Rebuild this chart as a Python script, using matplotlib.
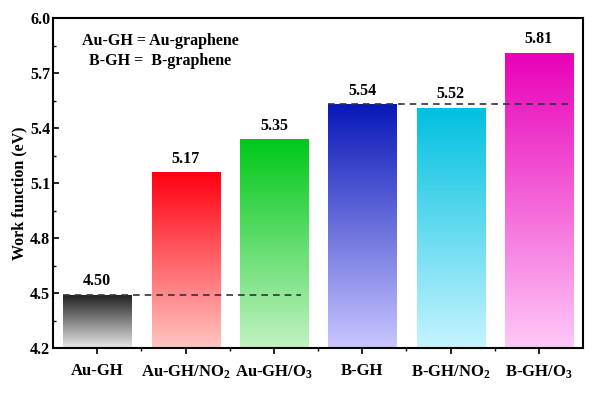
import numpy as np
import matplotlib
matplotlib.use('Agg')
import matplotlib.pyplot as plt
from matplotlib.colors import LinearSegmentedColormap

plt.rcParams['font.family'] = 'Liberation Serif'
plt.rcParams['font.weight'] = 'bold'
plt.rcParams['mathtext.fontset'] = 'custom'
plt.rcParams['mathtext.rm'] = 'Liberation Serif:bold'
plt.rcParams['mathtext.it'] = 'Liberation Serif:bold'
plt.rcParams['mathtext.bf'] = 'Liberation Serif:bold'
plt.rcParams['mathtext.default'] = 'rm'

# data
categories = ['Au-GH', 'Au-GH/NO$_2$', 'Au-GH/O$_3$', 'B-GH', 'B-GH/NO$_2$', 'B-GH/O$_3$']
values = [4.49, 5.16, 5.34, 5.53, 5.51, 5.81]
labels = ['4.50', '5.17', '5.35', '5.54', '5.52', '5.81']
top_colors = ['#1e1e1e', '#ff0010', '#00c818', '#0818b8', '#00c0e0', '#e800b8']
bottom_colors = ['#e8e8e8', '#ffc6c2', '#c2f2c2', '#cac6ff', '#c6f4ff', '#ffc8f8']

ymin, ymax = 4.2, 6.0
x = np.arange(1, len(categories) + 1)

fig = plt.figure(figsize=(6.03, 3.95), dpi=100)
ax = fig.add_axes([0.088, 0.119, 0.879, 0.835])

bars = ax.bar(x, np.array(values) - ymin, bottom=ymin, width=0.77,
              color='none', edgecolor='none', zorder=2)

# vertical gradient in each bar, dark at the top
grad = np.linspace(0, 1, 256).reshape(-1, 1)
for b, c0, c1 in zip(bars, top_colors, bottom_colors):
    cmap = LinearSegmentedColormap.from_list('g', [c1, c0])
    x0, y0 = b.get_x(), b.get_y()
    im = ax.imshow(grad, cmap=cmap, aspect='auto', origin='lower',
                   extent=[x0, x0 + b.get_width(), y0, y0 + b.get_height()],
                   zorder=1)
    im.set_clip_path(b)

for xi, v, lab in zip(x, values, labels):
    ax.annotate(lab, (xi, v), xytext=(0, 4), textcoords='offset points',
                ha='center', va='bottom', fontsize=11.5, fontweight='bold')

# reference dashed lines
ax.hlines(values[0], 0.61, 3.31, colors='#333333', linestyles=(0, (4, 3)), lw=1.2, zorder=3)
ax.hlines(values[3], 3.61, 6.33, colors='#333333', linestyles=(0, (4, 3)), lw=1.2, zorder=3)

ax.text(1.71, 5.82, 'Au-GH = Au-graphene\nB-GH =  B-graphene', ha='center', va='center',
        fontsize=11.5, fontweight='bold', linespacing=1.3)

ax.set_xlim(0.5, 6.5)
ax.set_ylim(ymin, ymax)
ax.set_yticks(np.arange(4.2, 6.01, 0.3))
ax.set_yticks(np.arange(4.35, 6.0, 0.3), minor=True)
ax.set_xticks(x)
ax.set_xticks(x[:-1] + 0.5, minor=True)
ax.set_xticklabels(categories, fontsize=12, fontweight='bold')
ax.set_yticklabels(['%.1f' % t for t in np.arange(4.2, 6.01, 0.3)], fontsize=11.5, fontweight='bold')
ax.set_ylabel('Work function (eV)', fontsize=11.5, fontweight='bold')
ax.yaxis.set_label_coords(-0.048, 0.47)

ax.tick_params(axis='x', which='major', direction='out', length=4, width=1.2, pad=7)
ax.tick_params(axis='x', which='minor', direction='out', length=2.5, width=1.0)
ax.tick_params(axis='y', which='major', direction='in', length=4, width=1.2, pad=2)
ax.tick_params(axis='y', which='minor', direction='in', length=2.5, width=1.0)
for s in ax.spines.values():
    s.set_linewidth(1.5)

fig.savefig('out.png', dpi=100)
